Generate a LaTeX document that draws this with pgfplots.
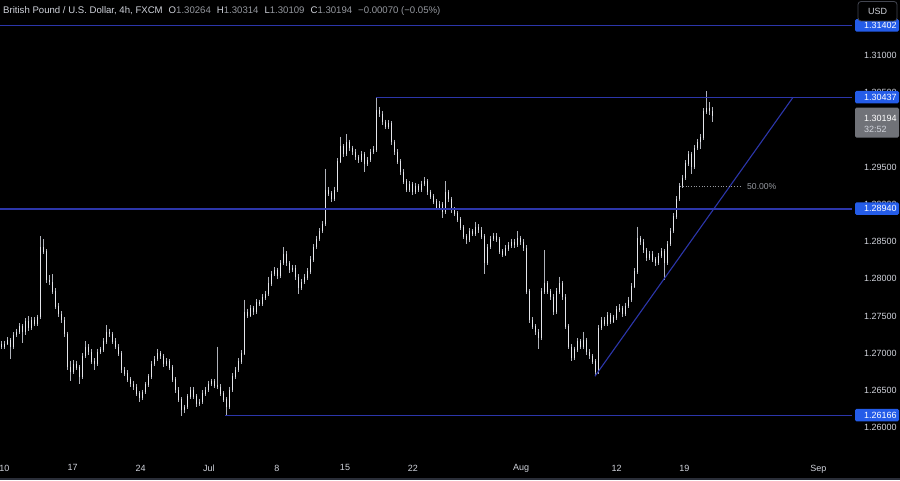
\documentclass[border=0pt]{standalone}
\usepackage{pgfplots}
\pgfplotsset{compat=1.18}
\usepackage{pgfplotstable}
\usepackage{fontspec}
\setmainfont{Liberation Sans}
\definecolor{lvl}{RGB}{44,54,170}
\definecolor{boxblue}{RGB}{36,92,232}
\definecolor{txt}{RGB}{209,212,220}
\definecolor{dim}{RGB}{150,153,160}
\definecolor{wick}{RGB}{175,178,186}
\definecolor{body}{RGB}{228,229,234}
\definecolor{curbox}{RGB}{112,114,120}
\definecolor{btn}{RGB}{67,70,81}
\definecolor{strip}{RGB}{42,46,57}

\pgfplotstableread{
k o h l c
0 1.2712 1.2716 1.2705 1.2709
1 1.2709 1.2717 1.2706 1.2713
2 1.2713 1.2722 1.2711 1.2718
3 1.2718 1.2720 1.2692 1.2709
4 1.2709 1.2728 1.2706 1.2725
5 1.2725 1.2733 1.2722 1.2729
6 1.2729 1.2740 1.2726 1.2736
7 1.2736 1.2739 1.2714 1.2729
8 1.2729 1.2747 1.2725 1.2743
9 1.2743 1.2750 1.2730 1.2734
10 1.2734 1.2749 1.2731 1.2745
11 1.2745 1.2748 1.2736 1.2740
12 1.2740 1.2752 1.2737 1.2749
13 1.2749 1.2857 1.2746 1.2843
14 1.2843 1.2853 1.2833 1.2837
15 1.2837 1.2840 1.2795 1.2799
16 1.2799 1.2805 1.2792 1.2796
17 1.2796 1.2806 1.2780 1.2783
18 1.2783 1.2787 1.2759 1.2763
19 1.2763 1.2768 1.2749 1.2753
20 1.2753 1.2757 1.2741 1.2745
21 1.2745 1.2749 1.2722 1.2726
22 1.2726 1.2729 1.2678 1.2682
23 1.2682 1.2690 1.2662 1.2675
24 1.2675 1.2691 1.2672 1.2686
25 1.2686 1.2690 1.2677 1.2681
26 1.2681 1.2684 1.2659 1.2669
27 1.2669 1.2700 1.2666 1.2696
28 1.2696 1.2716 1.2693 1.2709
29 1.2709 1.2712 1.2698 1.2702
30 1.2702 1.2705 1.2685 1.2689
31 1.2689 1.2693 1.2678 1.2686
32 1.2686 1.2706 1.2683 1.2702
33 1.2702 1.2709 1.2699 1.2705
34 1.2705 1.2720 1.2702 1.2716
35 1.2716 1.2738 1.2713 1.2729
36 1.2729 1.2733 1.2722 1.2726
37 1.2726 1.2729 1.2712 1.2716
38 1.2716 1.2720 1.2705 1.2709
39 1.2709 1.2712 1.2696 1.2700
40 1.2700 1.2703 1.2674 1.2678
41 1.2678 1.2682 1.2669 1.2673
42 1.2673 1.2677 1.2661 1.2665
43 1.2665 1.2668 1.2655 1.2659
44 1.2659 1.2663 1.2651 1.2655
45 1.2655 1.2658 1.2642 1.2646
46 1.2646 1.2649 1.2635 1.2640
47 1.2640 1.2651 1.2637 1.2648
48 1.2648 1.2661 1.2645 1.2658
49 1.2658 1.2672 1.2655 1.2669
50 1.2669 1.2690 1.2666 1.2686
51 1.2686 1.2696 1.2683 1.2692
52 1.2692 1.2705 1.2689 1.2700
53 1.2700 1.2703 1.2692 1.2696
54 1.2696 1.2699 1.2682 1.2686
55 1.2686 1.2693 1.2683 1.2689
56 1.2689 1.2692 1.2677 1.2681
57 1.2681 1.2684 1.2661 1.2665
58 1.2665 1.2668 1.2647 1.2651
59 1.2651 1.2654 1.2634 1.2638
60 1.2638 1.2641 1.2616 1.2624
61 1.2624 1.2631 1.2620 1.2628
62 1.2628 1.2645 1.2625 1.2642
63 1.2642 1.2655 1.2639 1.2651
64 1.2651 1.2654 1.2638 1.2642
65 1.2642 1.2645 1.2628 1.2632
66 1.2632 1.2639 1.2629 1.2635
67 1.2635 1.2650 1.2632 1.2646
68 1.2646 1.2655 1.2643 1.2651
69 1.2651 1.2663 1.2648 1.2659
70 1.2659 1.2666 1.2656 1.2662
71 1.2662 1.2665 1.2653 1.2657
72 1.2657 1.2709 1.2652 1.2655
73 1.2655 1.2658 1.2642 1.2646
74 1.2646 1.2649 1.2634 1.2638
75 1.2638 1.2641 1.2617 1.2628
76 1.2628 1.2655 1.2625 1.2651
77 1.2651 1.2673 1.2648 1.2669
78 1.2669 1.2682 1.2666 1.2678
79 1.2678 1.2693 1.2675 1.2689
80 1.2689 1.2704 1.2686 1.2700
81 1.2700 1.2772 1.2697 1.2756
82 1.2756 1.2760 1.2747 1.2751
83 1.2751 1.2765 1.2748 1.2761
84 1.2761 1.2764 1.2752 1.2756
85 1.2756 1.2773 1.2753 1.2769
86 1.2769 1.2772 1.2763 1.2767
87 1.2767 1.2779 1.2764 1.2775
88 1.2775 1.2784 1.2772 1.2780
89 1.2780 1.2803 1.2777 1.2794
90 1.2794 1.2811 1.2791 1.2807
91 1.2807 1.2816 1.2804 1.2812
92 1.2812 1.2815 1.2800 1.2804
93 1.2804 1.2825 1.2801 1.2821
94 1.2821 1.2843 1.2818 1.2834
95 1.2834 1.2837 1.2817 1.2821
96 1.2821 1.2824 1.2808 1.2812
97 1.2812 1.2819 1.2809 1.2815
98 1.2815 1.2818 1.2799 1.2803
99 1.2803 1.2806 1.2780 1.2788
100 1.2788 1.2800 1.2785 1.2796
101 1.2796 1.2806 1.2793 1.2802
102 1.2802 1.2814 1.2799 1.2810
103 1.2810 1.2830 1.2807 1.2826
104 1.2826 1.2847 1.2823 1.2843
105 1.2843 1.2858 1.2840 1.2854
106 1.2854 1.2868 1.2851 1.2864
107 1.2864 1.2878 1.2861 1.2874
108 1.2874 1.2948 1.2871 1.2920
109 1.2920 1.2924 1.2911 1.2915
110 1.2915 1.2918 1.2903 1.2907
111 1.2907 1.2924 1.2904 1.2920
112 1.2920 1.2962 1.2917 1.2958
113 1.2958 1.2991 1.2955 1.2978
114 1.2978 1.2981 1.2964 1.2968
115 1.2968 1.2994 1.2965 1.2984
116 1.2984 1.2987 1.2972 1.2976
117 1.2976 1.2979 1.2967 1.2971
118 1.2971 1.2974 1.2960 1.2964
119 1.2964 1.2967 1.2956 1.2960
120 1.2960 1.2972 1.2957 1.2968
121 1.2968 1.2971 1.2944 1.2955
122 1.2955 1.2964 1.2952 1.2960
123 1.2960 1.2975 1.2957 1.2971
124 1.2971 1.2978 1.2968 1.2974
125 1.2974 1.30437 1.2971 1.3027
126 1.3027 1.3031 1.3018 1.3022
127 1.3022 1.3025 1.3007 1.3011
128 1.3011 1.3014 1.3001 1.3005
129 1.3005 1.3013 1.3002 1.3009
130 1.3009 1.3012 1.2980 1.2984
131 1.2984 1.2987 1.2967 1.2971
132 1.2971 1.2974 1.2954 1.2958
133 1.2958 1.2961 1.2940 1.2944
134 1.2944 1.2947 1.2927 1.2931
135 1.2931 1.2934 1.2916 1.2920
136 1.2920 1.2931 1.2917 1.2927
137 1.2927 1.2930 1.2913 1.2917
138 1.2917 1.2929 1.2914 1.2925
139 1.2925 1.2928 1.2916 1.2920
140 1.2920 1.2932 1.2917 1.2928
141 1.2928 1.2937 1.2925 1.2931
142 1.2931 1.2934 1.2913 1.2917
143 1.2917 1.2920 1.2907 1.2911
144 1.2911 1.2914 1.2900 1.2904
145 1.2904 1.2907 1.2892 1.2896
146 1.2896 1.2904 1.2893 1.2900
147 1.2900 1.2903 1.2882 1.2890
148 1.2890 1.2931 1.2887 1.2917
149 1.2917 1.2920 1.2903 1.2907
150 1.2907 1.2910 1.2889 1.2893
151 1.2893 1.2896 1.2884 1.2888
152 1.2888 1.2891 1.2876 1.2880
153 1.2880 1.2883 1.2865 1.2869
154 1.2869 1.2872 1.2853 1.2857
155 1.2857 1.2860 1.2847 1.2853
156 1.2853 1.2868 1.2850 1.2864
157 1.2864 1.2867 1.2857 1.2861
158 1.2861 1.2877 1.2858 1.2870
159 1.2870 1.2873 1.2862 1.2866
160 1.2866 1.2869 1.2853 1.2857
161 1.2857 1.2860 1.2807 1.2821
162 1.2821 1.2847 1.2818 1.2843
163 1.2843 1.2858 1.2840 1.2854
164 1.2854 1.2862 1.2851 1.2858
165 1.2858 1.2861 1.2849 1.2853
166 1.2853 1.2856 1.2833 1.2837
167 1.2837 1.2840 1.2829 1.2833
168 1.2833 1.2845 1.2830 1.2841
169 1.2841 1.2849 1.2838 1.2845
170 1.2845 1.2854 1.2842 1.2850
171 1.2850 1.2853 1.2842 1.2846
172 1.2846 1.2864 1.2843 1.2855
173 1.2855 1.2858 1.2846 1.2850
174 1.2850 1.2853 1.2838 1.2842
175 1.2842 1.2845 1.2779 1.2783
176 1.2783 1.2786 1.2741 1.2745
177 1.2745 1.2748 1.2732 1.2736
178 1.2736 1.2739 1.2725 1.2729
179 1.2729 1.2732 1.2706 1.2721
180 1.2721 1.2787 1.2718 1.2783
181 1.2783 1.2839 1.2780 1.2794
182 1.2794 1.2797 1.2779 1.2783
183 1.2783 1.2786 1.2772 1.2776
184 1.2776 1.2779 1.2752 1.2756
185 1.2756 1.2787 1.2753 1.2783
186 1.2783 1.2803 1.2780 1.2794
187 1.2794 1.2797 1.2772 1.2776
188 1.2776 1.2779 1.2732 1.2736
189 1.2736 1.2739 1.2705 1.2709
190 1.2709 1.2712 1.2690 1.2694
191 1.2694 1.2709 1.2691 1.2705
192 1.2705 1.2720 1.2702 1.2716
193 1.2716 1.2719 1.2705 1.2709
194 1.2709 1.2729 1.2706 1.2718
195 1.2718 1.2721 1.2698 1.2702
196 1.2702 1.2705 1.2692 1.2696
197 1.2696 1.2699 1.2685 1.2689
198 1.2689 1.2692 1.2669 1.2675
199 1.2675 1.2738 1.2672 1.2734
200 1.2734 1.2749 1.2731 1.2745
201 1.2745 1.2748 1.2736 1.2740
202 1.2740 1.2755 1.2737 1.2751
203 1.2751 1.2754 1.2739 1.2743
204 1.2743 1.2752 1.2740 1.2748
205 1.2748 1.2763 1.2745 1.2759
206 1.2759 1.2766 1.2756 1.2761
207 1.2761 1.2764 1.2749 1.2753
208 1.2753 1.2768 1.2750 1.2764
209 1.2764 1.2776 1.2761 1.2772
210 1.2772 1.2794 1.2769 1.2790
211 1.2790 1.2814 1.2787 1.2810
212 1.2810 1.2870 1.2807 1.2855
213 1.2855 1.2858 1.2846 1.2850
214 1.2850 1.2853 1.2835 1.2839
215 1.2839 1.2842 1.2824 1.2828
216 1.2828 1.2838 1.2825 1.2834
217 1.2834 1.2837 1.2822 1.2826
218 1.2826 1.2829 1.2817 1.2821
219 1.2821 1.2835 1.2818 1.2831
220 1.2831 1.2841 1.2828 1.2837
221 1.2837 1.2840 1.2799 1.2821
222 1.2821 1.2851 1.2818 1.2847
223 1.2847 1.2868 1.2844 1.2864
224 1.2864 1.2888 1.2861 1.2884
225 1.2884 1.2911 1.2881 1.2907
226 1.2907 1.2929 1.2904 1.2925
227 1.2925 1.2940 1.2922 1.2936
228 1.2936 1.2959 1.2933 1.2955
229 1.2955 1.2972 1.2952 1.2968
230 1.2968 1.2971 1.2941 1.2951
231 1.2951 1.2980 1.2948 1.2976
232 1.2976 1.2988 1.2973 1.2984
233 1.2984 1.2994 1.2975 1.2990
234 1.2990 1.3029 1.2987 1.3025
235 1.3025 1.3052 1.3022 1.3030
236 1.3030 1.3037 1.3020 1.3026
237 1.3026 1.3031 1.3011 1.3019
}\data

\begin{document}
\begin{tikzpicture}[x=1pt,y=1pt]
\fill[black] (0,0) rectangle (900,480);
\fill[strip] (0,0) rectangle (900,2.5);
\begin{axis}[
  at={(0,31.5)}, anchor=south west,
  scale only axis, width=852pt, height=455pt,
  xmin=-0.5, xmax=283.5, ymin=1.25611, ymax=1.31726,
  axis line style={draw=none}, major tick length=0pt,
  xtick={1.0,23.7,46.4,69.1,91.8,114.5,137.1,173.2,205.0,227.6,272.3},
  xticklabels={10,17,24,Jul,8,15,22,Aug,12,19,Sep},
  ytick={1.26,1.265,1.27,1.275,1.28,1.285,1.29,1.295,1.305,1.31},
  yticklabels={1.26000,1.26500,1.27000,1.27500,1.28000,1.28500,1.29000,1.29500,1.30500,1.31000},
  yticklabel pos=right,
  ticklabel style={font=\fontsize{9}{10}\selectfont, text=txt},
  yticklabel style={anchor=west, inner sep=0pt, xshift=12pt},
  xticklabel style={anchor=north, inner sep=0pt, yshift=-8pt},
]
% wicks
\addplot[draw=none, mark=none,
  error bars/.cd, y dir=minus, y explicit, error mark=none,
  error bar style={draw=wick, line width=0.7pt}]
  table[x=k, y=h, y error minus expr={\thisrow{h}-\thisrow{l}}] {\data};
% bodies
\addplot[draw=none, mark=none,
  error bars/.cd, y dir=minus, y explicit, error mark=none,
  error bar style={draw=body, line width=1.8pt}]
  table[x=k, y expr={max(\thisrow{o},\thisrow{c})}, y error minus expr={abs(\thisrow{c}-\thisrow{o})+0.00004}] {\data};
% levels
\addplot[lvl, line width=1.3pt] coordinates {(-0.5,1.31402) (283.5,1.31402)};
\addplot[lvl, line width=1.3pt] coordinates {(124.8,1.30437) (283.5,1.30437)};
\addplot[lvl, line width=1.3pt] coordinates {(-0.5,1.28940) (283.5,1.28940)};
\addplot[lvl, line width=1.3pt] coordinates {(74.5,1.26166) (283.5,1.26166)};
\addplot[lvl, line width=1.1pt] coordinates {(197.8,1.2669) (263.8,1.30437)};
\addplot[dim, dotted, line width=0.7pt] coordinates {(226.2,1.2924) (246.2,1.2924)};
\node[anchor=west, inner sep=0pt, text=dim, font=\fontsize{8.6}{10}\selectfont] at (axis cs:248.5,1.2924) {50.00\%};
\coordinate (P1) at (axis cs:283.5,1.31402);
\coordinate (P2) at (axis cs:283.5,1.30437);
\coordinate (P3) at (axis cs:283.5,1.28940);
\coordinate (P4) at (axis cs:283.5,1.26166);
\coordinate (PC) at (axis cs:283.5,1.30194);
\end{axis}
% price labels
\foreach \p/\t in {P1/1.31402,P2/1.30437,P3/1.28940,P4/1.26166}{
  \fill[boxblue, rounded corners=1.5pt] ([xshift=3pt,yshift=-6pt]\p) rectangle ([xshift=47pt,yshift=6.5pt]\p);
  \node[anchor=west, inner sep=0pt, text=white, font=\fontsize{9}{10}\selectfont] at ([xshift=12pt,yshift=0pt]\p) {\t};
}
\fill[curbox, rounded corners=1.5pt] ([xshift=3pt,yshift=8pt]PC) rectangle ([xshift=47pt,yshift=-22pt]PC);
\node[anchor=west, inner sep=0pt, text=white, font=\fontsize{9}{10}\selectfont] at ([xshift=12pt,yshift=-2.5pt]PC) {1.30194};
\node[anchor=west, inner sep=0pt, text=txt, font=\fontsize{9}{10}\selectfont] at ([xshift=12pt,yshift=-14pt]PC) {32:52};
% USD button
\filldraw[fill=black, draw=btn, line width=0.8pt, rounded corners=3pt] (858,459) rectangle (897,478.5);
\node[text=txt, inner sep=0pt, font=\fontsize{9}{10}\selectfont] at (877.5,468.5) {USD};
% header
\node[anchor=west, inner sep=0pt, text=txt, font=\fontsize{9.6}{11}\selectfont] at (3,469)
  {British Pound / U.S. Dollar, 4h, FXCM\hspace{6pt}O{\color{dim}1.30264}\hspace{6pt}H{\color{dim}1.30314}\hspace{6pt}L{\color{dim}1.30109}\hspace{6pt}C{\color{dim}1.30194}\hspace{6pt}{\color{dim}−0.00070 (−0.05\%)}};
\pgfresetboundingbox
\path (0,0) rectangle (900,480);
\end{tikzpicture}
\end{document}
